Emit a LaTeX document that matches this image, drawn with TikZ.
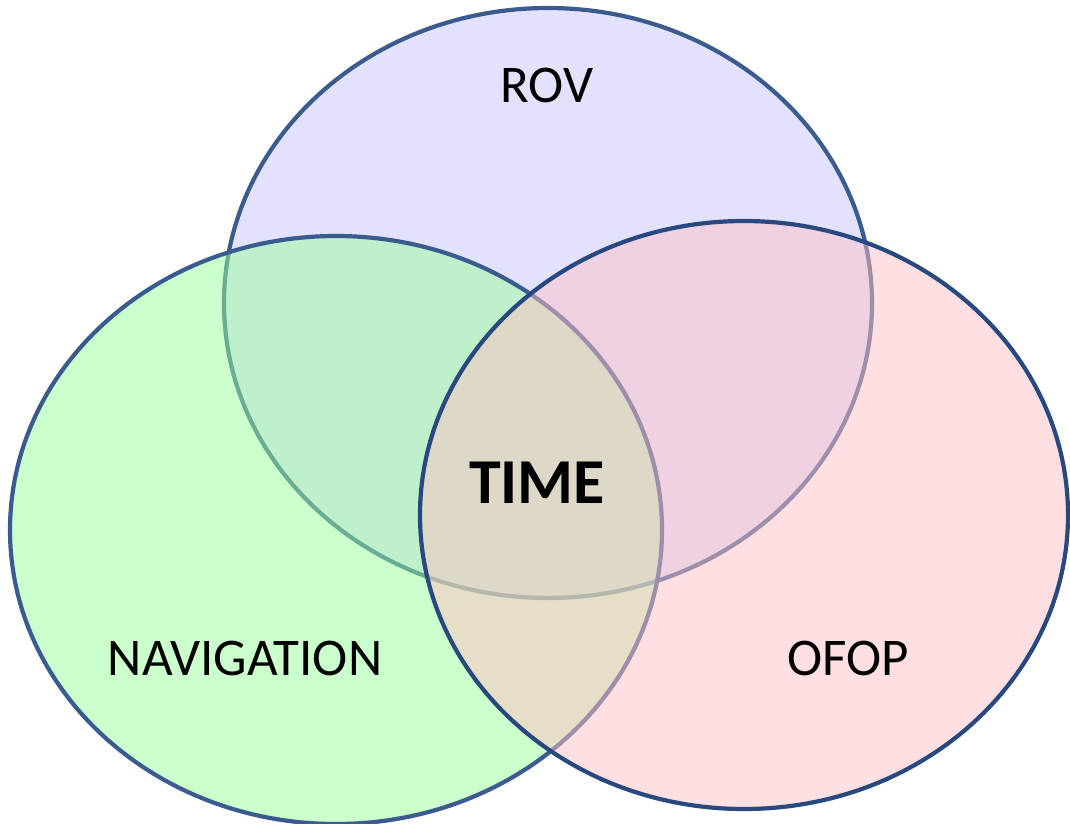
\documentclass[tikz,border=0pt]{standalone}
\usepackage{fontspec}
\setmainfont{Carlito}

\definecolor{rimblue}{RGB}{59,91,142}
\definecolor{rimdark}{RGB}{40,72,128}
\definecolor{rovfill}{RGB}{199,199,255}
\definecolor{navfill}{RGB}{153,255,153}
\definecolor{ofopfill}{RGB}{255,193,199}

\begin{document}
\begin{tikzpicture}[
  x = 1pt, y = -1pt,
  set/.style   = {line width=4.2pt, fill opacity=0.5},
  label/.style = {font=\fontsize{53}{58}\selectfont, text=black},
  core/.style  = {font=\fontsize{64}{68}\selectfont\bfseries, text=black},
]

\fill[white] (0,0) rectangle (1070,823);
\useasboundingbox (0,0) rectangle (1070,823);

% the three sets, back to front
\foreach \cx/\cy/\rx/\ry/\col/\rim in {%
    548/303/324/295/rovfill/rimblue,
    336/530/326/294/navfill/rimblue,
    744/515/324/294/ofopfill/rimdark%
  }{%
    \draw[set, draw=\rim, fill=\col] (\cx, \cy) ellipse [x radius=\rx, y radius=\ry];
  }

\node[label] (rov)  at (547, 85)  {ROV};
\node[label] (nav)  at (245, 658) {NAVIGATION};
\node[label] (ofop) at (848, 658) {OFOP};
\node[core]  (time) at (537, 483) {TIME};

\end{tikzpicture}
\end{document}
